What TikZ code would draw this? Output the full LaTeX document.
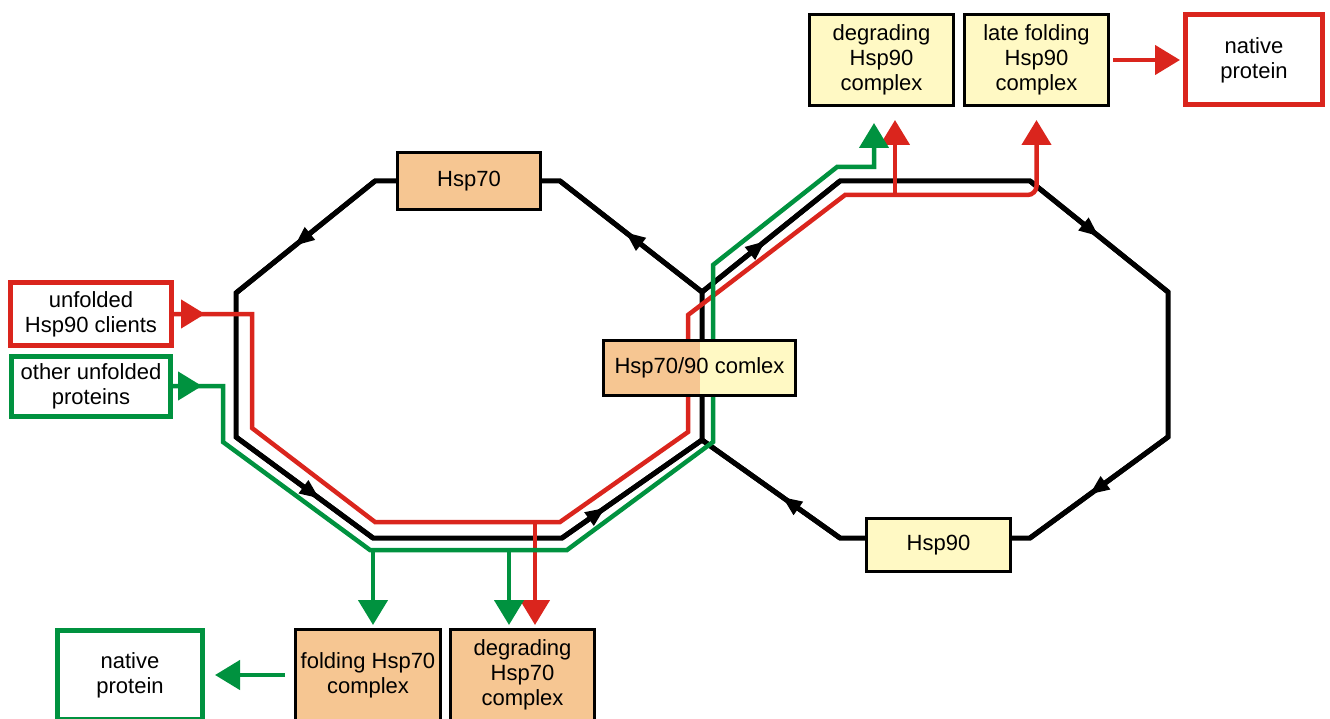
\documentclass[tikz,border=0pt]{standalone}
\usepackage{fontspec}
\setmainfont{Liberation Sans}
\usetikzlibrary{arrows.meta,decorations.markings,positioning}

\definecolor{hsppeach}{RGB}{246,198,146}
\definecolor{hspyellow}{RGB}{255,249,196}
\definecolor{flowred}{RGB}{218,37,29}
\definecolor{flowgreen}{RGB}{0,146,63}

\tikzset{midarrow/.style={postaction={decorate,decoration={markings,mark=at position #1 with {\arrow{Triangle[length=20pt,width=15pt]}}}}}}
\tikzset{inarrow/.style={postaction={decorate,decoration={markings,mark=at position #1 with {\arrow{Triangle[length=24pt,width=28pt]}}}}}}

\begin{document}
\begin{tikzpicture}[x=1pt,y=-1pt]
\useasboundingbox (0,0) rectangle (1330,719);
\clip (0,0) rectangle (1330,719);
\begin{scope}
\tikzstyle{box} = [rectangle,draw,line width=3pt,align=center,inner sep=0pt,font=\fontsize{22}{25}\selectfont]
\tikzstyle{peachbox} = [box,fill=hsppeach]
\tikzstyle{yellowbox} = [box,fill=hspyellow]
\tikzstyle{ringline} = [line width=5pt]
\tikzstyle{redflow} = [draw=flowred,line width=4.5pt]
\tikzstyle{greenflow} = [draw=flowgreen,line width=4.5pt]
\tikzstyle{bigtip} = [-{Triangle[length=25pt,width=29pt]}]

% corners of the two cycles
\coordinate (L1) at (375,181);
\coordinate (L2) at (560,181);
\coordinate (L3) at (702,292);
\coordinate (L4) at (702,440);
\coordinate (L5) at (562,538);
\coordinate (L6) at (373,538);
\coordinate (L7) at (236,437);
\coordinate (L8) at (236,293);
\coordinate (R1) at (840,181);
\coordinate (R2) at (1030,181);
\coordinate (R3) at (1168,292);
\coordinate (R4) at (1168,437);
\coordinate (R5) at (1030,538);
\coordinate (R6) at (840,538);

\draw [ringline] (L1) -- (L2) -- (L3) -- (L4) -- (L5) -- (L6) -- (L7) -- (L8) -- cycle;
\draw [ringline] (L3) -- (R1) -- (R2) -- (R3) -- (R4) -- (R5) -- (R6) -- (L4);

\draw [ringline,midarrow=0.54] (L3) -- (L2);
\draw [ringline,midarrow=0.58] (L1) -- (L8);
\draw [ringline,midarrow=0.61] (L7) -- (L6);
\draw [ringline,midarrow=0.31] (L5) -- (L4);
\draw [ringline,midarrow=0.46] (L3) -- (R1);
\draw [ringline,midarrow=0.5] (R2) -- (R3);
\draw [ringline,midarrow=0.57] (R4) -- (R5);
\draw [ringline,midarrow=0.42] (R6) -- (L4);

% boxes
\node [box,draw=flowred,line width=5pt,minimum width=161pt,minimum height=62pt] (unfolded) at (91,314) {unfolded\\Hsp90 clients};
\node [box,draw=flowgreen,line width=5pt,minimum width=159pt,minimum height=60pt] (other) at (91,386) {other unfolded\\proteins};
\node [peachbox,minimum width=143pt,minimum height=57pt] (hsp70) at (469,181) {Hsp70};
\node [yellowbox,minimum width=144pt,minimum height=53pt] (hsp90) at (938.5,545) {Hsp90};
\node [yellowbox,minimum width=144pt,minimum height=91pt] (degr90) at (881.5,60) {degrading\\Hsp90\\complex};
\node [yellowbox,minimum width=144pt,minimum height=91pt] (late90) at (1036.5,60) {late folding\\Hsp90\\complex};
\node [box,draw=flowred,line width=5pt,minimum width=137pt,minimum height=90pt] (nativered) at (1254,60) {native\\protein};
\node [peachbox,minimum width=145pt,minimum height=91pt] (fold70) at (368,675) {folding Hsp70\\complex};
\node [peachbox,minimum width=144pt,minimum height=91pt] (degr70) at (522.5,675) {degrading\\Hsp70\\complex};
\node [box,draw=flowgreen,line width=5pt,minimum width=145pt,minimum height=89pt] (nativegreen) at (130,675) {native\\protein};

%red route
\coordinate (r1) at (252,314);
\coordinate (r2) at (252,428);
\coordinate (r3) at (375,522);
\coordinate (r4) at (560,522);
\coordinate (r5) at (688,432);
\coordinate (r6) at (688,315);
\coordinate (r7) at (845,195);
\coordinate (rup) at (895,195);
\coordinate (rdown) at (535,522);

\draw [redflow,bigtip,shorten >=13pt,inarrow=31pt] (unfolded.east) -- (r1) -- (r2) -- (r3) -- (r4) -- (r5) -- (r6) -- (r7) [rounded corners=9pt] -- (late90.south |- r7) -- (late90.south);
\draw [redflow,bigtip,shorten >=13pt] (rup) -- (rup |- degr90.south);
\draw [redflow,bigtip,shorten >=3pt] (rdown) -- (rdown |- degr70.north);
\draw [redflow,bigtip,shorten <=3pt,shorten >=3pt] (late90.east) -- (nativered.west);

%green route
\coordinate (g1) at (223,386);
\coordinate (g2) at (223,442);
\coordinate (g3) at (370,550);
\coordinate (g4) at (567,550);
\coordinate (g5) at (713,442);
\coordinate (g6) at (713,265);
\coordinate (g7) at (837,167);
\coordinate (gleft) at (373,550);
\coordinate (gright) at (509,550);

\draw [greenflow,bigtip,shorten >=16pt,inarrow=29pt] (other.east) -- (g1) -- (g2) -- (g3) -- (g4) -- (g5) -- (g6) -- (g7) -- (874,167) -- (874,0 |- degr90.south);
\draw [greenflow,bigtip,shorten >=3pt] (gleft) -- (gleft |- fold70.north);
\draw [greenflow,bigtip,shorten >=3pt] (gright) -- (gright |- degr70.north);
\draw [greenflow,bigtip,shorten <=9pt,shorten >=10pt] (fold70.west) -- (nativegreen.east);

\node [box,fill=hspyellow,minimum width=192pt,minimum height=55pt,path picture={\fill [hsppeach] (path picture bounding box.north west) rectangle (path picture bounding box.south);}] (complex) at (699.5,368) {Hsp70/90 comlex};
\end{scope}
\end{tikzpicture}
\end{document}
